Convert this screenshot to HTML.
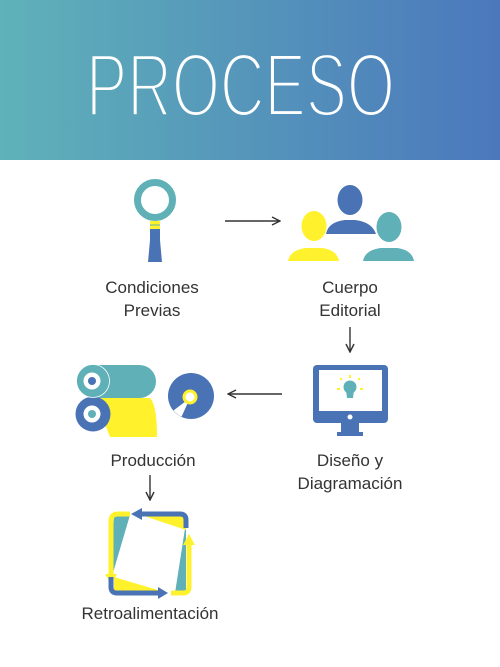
<!DOCTYPE html>
<html><head><meta charset="utf-8"><style>
html,body{margin:0;padding:0;background:#fff}
svg{display:block}
text{font-family:"Liberation Sans",sans-serif}
</style></head><body>
<svg width="500" height="667" viewBox="0 0 500 667" xmlns="http://www.w3.org/2000/svg">
<defs>
<linearGradient id="g" x1="0" x2="500" y1="0" y2="0" gradientUnits="userSpaceOnUse">
<stop offset="0" stop-color="#5fb2b9"/><stop offset="1" stop-color="#4b78bc"/>
</linearGradient>
<marker id="ah" viewBox="0 0 10 10" refX="9" refY="5" markerWidth="10" markerHeight="10" markerUnits="userSpaceOnUse" orient="auto">
<path d="M1,1 L9,5 L1,9" fill="none" stroke="#333" stroke-width="1.4"/>
</marker>
</defs>
<rect x="0" y="0" width="500" height="160" fill="url(#g)"/>
<text x="86" y="116" font-size="90" fill="#fff" stroke="url(#g)" stroke-width="4" textLength="309" lengthAdjust="spacingAndGlyphs">PROCESO</text>

<!-- magnifier -->
<circle cx="155" cy="200" r="17.5" fill="#fff" stroke="#5fb0b7" stroke-width="7"/>
<rect x="150" y="221" width="10" height="8" fill="#fff22d"/>
<line x1="150" y1="225" x2="160" y2="225" stroke="#5fb0b7" stroke-width="1"/>
<path d="M150,229 L160,229 L160,240 L162,262 L148,262 L150,240 Z" fill="#4a73b5"/>

<line x1="225" y1="221" x2="280" y2="221" stroke="#333" stroke-width="1.4" marker-end="url(#ah)"/>

<!-- people -->
<ellipse cx="350" cy="200" rx="12.5" ry="15" fill="#4a73b5"/>
<path d="M326,234 Q328,222 345,220 L355,220 Q372,222 376,234 Z" fill="#4a73b5"/>
<ellipse cx="314" cy="226" rx="12.5" ry="15" fill="#fff22d"/>
<path d="M288,261 Q290,250 306,248 L322,248 Q337,250 339,261 Z" fill="#fff22d"/>
<ellipse cx="389" cy="227" rx="12.5" ry="15" fill="#5fb0b7"/>
<path d="M363,261 Q365,250 381,248 L397,248 Q412,250 414,261 Z" fill="#5fb0b7"/>

<g font-size="17" fill="#333" text-anchor="middle">
<text x="152" y="293">Condiciones</text>
<text x="152" y="316">Previas</text>
<text x="350" y="293">Cuerpo</text>
<text x="350" y="316">Editorial</text>
<text x="153" y="466">Producción</text>
<text x="350" y="466">Diseño y</text>
<text x="350" y="489">Diagramación</text>
<text x="150" y="619">Retroalimentación</text>
</g>

<line x1="350" y1="327" x2="350" y2="352" stroke="#333" stroke-width="1.4" marker-end="url(#ah)"/>

<!-- monitor -->
<rect x="313" y="365" width="75" height="58" rx="4" fill="#4a73b5"/>
<rect x="319" y="370" width="63" height="41" fill="#fff"/>
<circle cx="350" cy="417" r="2.5" fill="#fff"/>
<rect x="341" y="423" width="18" height="10" fill="#4a73b5"/>
<rect x="337" y="432" width="26" height="4" fill="#4a73b5"/>
<circle cx="350" cy="387" r="6.5" fill="#5fb0b7"/>
<path d="M346,390 L354,390 L353,398 L347,398 Z" fill="#5fb0b7"/>
<g fill="#fff22d"><rect x="349" y="375" width="2" height="3"/><rect x="337" y="388" width="3" height="2"/><rect x="360" y="388" width="3" height="2"/><circle cx="341" cy="379" r="1.2"/><circle cx="359" cy="379" r="1.2"/></g>

<line x1="282" y1="394" x2="228" y2="394" stroke="#333" stroke-width="1.4" marker-end="url(#ah)"/>

<!-- disc -->
<circle cx="191" cy="396" r="23" fill="#4a73b5"/>
<path d="M190,398 L173.5,410.5 A23,23 0 0 0 181.5,416.8 Z" fill="#fff"/>
<circle cx="190" cy="397" r="6" fill="#fff" stroke="#fff22d" stroke-width="3"/>

<!-- rollers -->
<rect x="80" y="365" width="76" height="33" rx="16.5" fill="#5fb0b7"/>
<path d="M95,398 L150,398 Q157,405 157,437 L110,437 Z" fill="#fff22d"/>
<circle cx="93" cy="414" r="17.5" fill="#4a73b5"/>
<circle cx="92" cy="414" r="8.5" fill="#fff"/>
<circle cx="92" cy="414" r="4" fill="#5fb0b7"/>
<circle cx="93" cy="381" r="16.5" fill="#5fb0b7" stroke="#fff" stroke-width="0.8"/>
<circle cx="92" cy="381" r="8.5" fill="#fff"/>
<circle cx="92" cy="381" r="4" fill="#4a73b5"/>

<line x1="150" y1="475" x2="150" y2="500" stroke="#333" stroke-width="1.4" marker-end="url(#ah)"/>

<!-- feedback -->
<path d="M114,515 L130,515 L110,583 Z" fill="#5fb0b7"/>
<path d="M186,522 L186,593 L175,593 Z" fill="#5fb0b7"/>
<path d="M135,513 L186,513 L186,530 Z" fill="#fff22d"/>
<path d="M114,577 L114,593 L168,593 Z" fill="#fff22d"/>
<path d="M130,514 L118,514 Q111,514 111,521 L111,578" fill="none" stroke="#fff22d" stroke-width="5"/>
<path d="M105,574 L117,574 L111,584 Z" fill="#fff22d"/>
<path d="M186,528 L186,520 Q186,514 180,514 L140,514" fill="none" stroke="#4a73b5" stroke-width="5"/>
<path d="M142,508 L142,520 L131,514 Z" fill="#4a73b5"/>
<path d="M111,577 L111,587 Q111,593 117,593 L160,593" fill="none" stroke="#4a73b5" stroke-width="5"/>
<path d="M158,587 L158,599 L168,593 Z" fill="#4a73b5"/>
<path d="M171,593 L183,593 Q189,593 189,587 L189,543" fill="none" stroke="#fff22d" stroke-width="5"/>
<path d="M183,545 L195,545 L189,534 Z" fill="#fff22d"/>
</svg>
</body></html>
